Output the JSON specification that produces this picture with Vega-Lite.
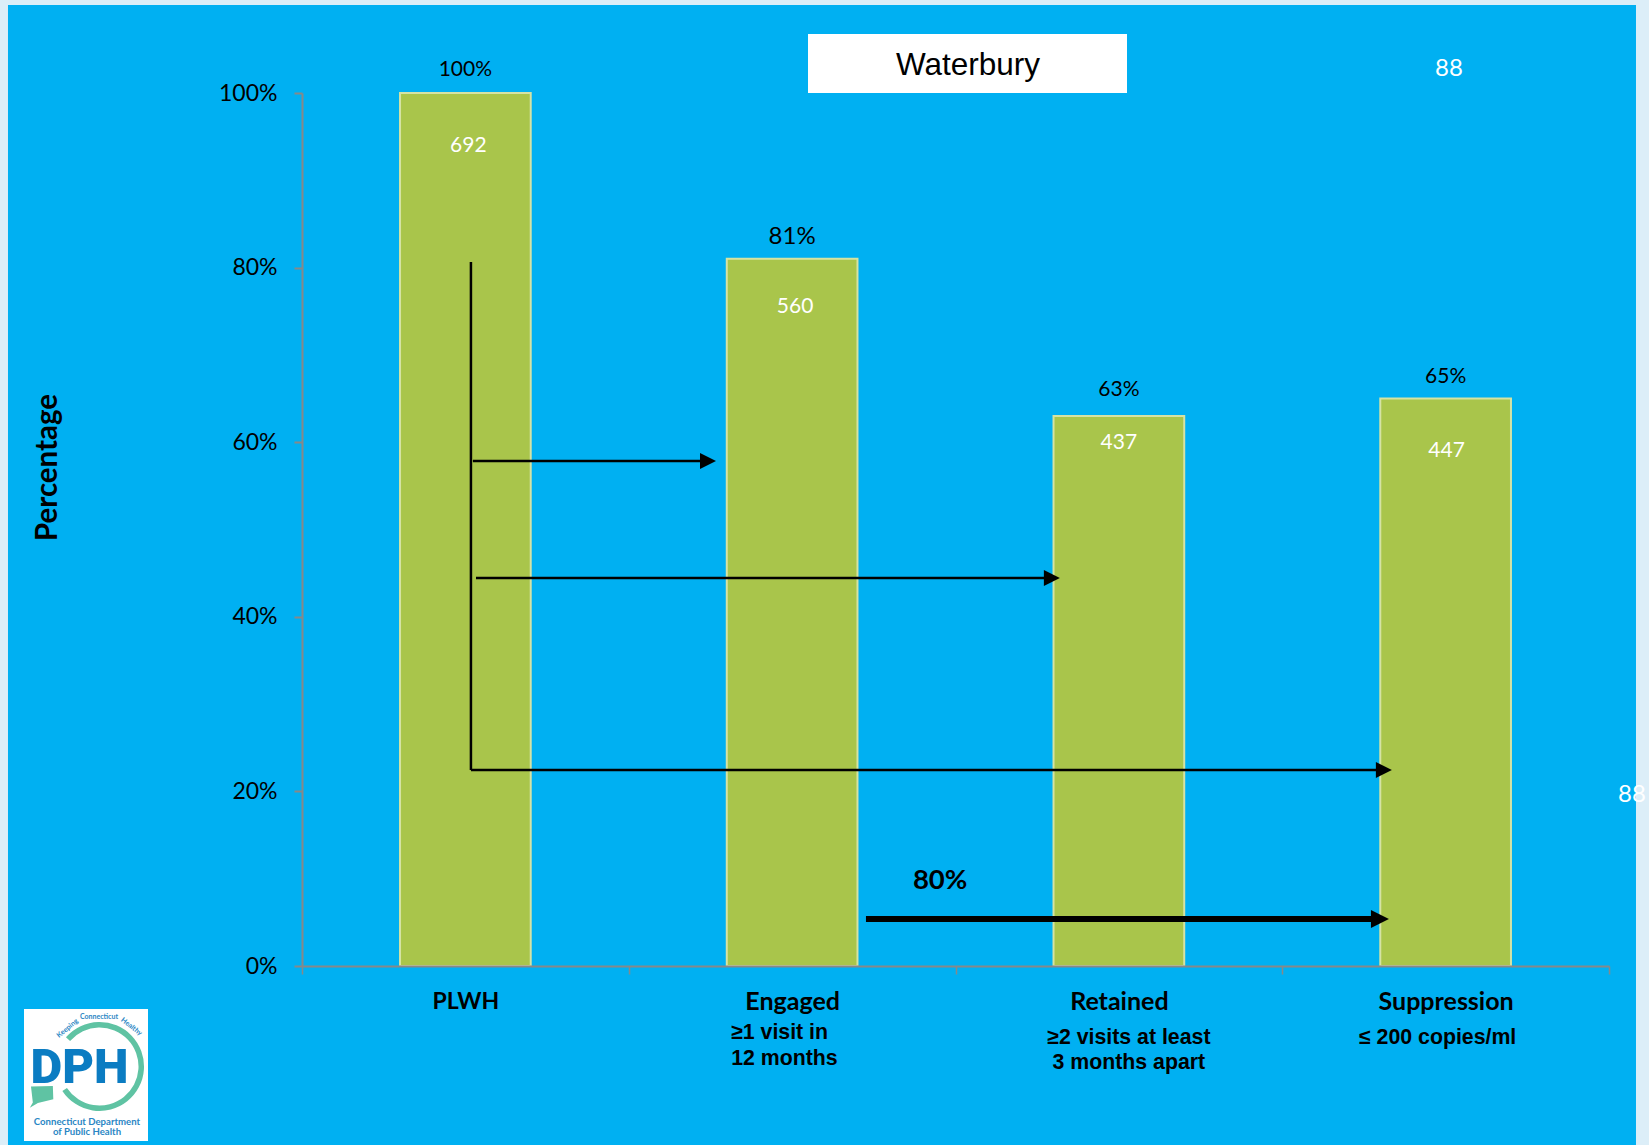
{
  "$schema": "https://vega.github.io/schema/vega-lite/v6.json",
  "width": 1307,
  "height": 873,
  "autosize": {"type": "none"},
  "padding": {"left": 302, "top": 93, "right": 40, "bottom": 179},
  "background": "#DCEEF8",
  "view": {"stroke": null},
  "data": {"values": [{}]},
  "datasets": {
    "stages": [
      {"stage": "PLWH", "pct": 1.0, "count": 692},
      {"stage": "Engaged", "pct": 0.81, "count": 560, "note": "≥1 visit in\n12 months"},
      {"stage": "Retained", "pct": 0.63, "count": 437, "note": "≥2 visits at least\n3 months apart"},
      {"stage": "Suppression", "pct": 0.65, "count": 447, "note": "≤ 200 copies/ml"}
    ],
    "arrows": [
      {"from": 0.523, "to": 1.2425, "level": 0.5785},
      {"from": 0.5325, "to": 2.295, "level": 0.4444},
      {"from": 0.517, "to": 3.311, "level": 0.2245}
    ],
    "target": [
      {"from": 1.726, "to": 3.299, "level": 0.0538, "label": "80%", "labelAt": 1.953, "labelLevel": 0.0975}
    ]
  },
  "resolve": {"scale": {"x": "independent"}},
  "layer": [
    {
      "description": "Blue panel behind the chart; it also carries the percentage axis",
      "mark": {"type": "rect", "color": "#00B0F2"},
      "encoding": {
        "x": {"datum": -0.8998, "type": "quantitative", "scale": {"domain": [0, 4]}, "axis": null},
        "x2": {"datum": 4.0826},
        "y": {
          "datum": 1.1008,
          "type": "quantitative",
          "scale": {"domain": [0, 1]},
          "title": "Percentage",
          "axis": {
            "zindex": 1,
            "values": [0, 0.2, 0.4, 0.6, 0.8, 1],
            "format": ".0%",
            "grid": false,
            "labelFont": "Lato",
            "labelFontSize": 23,
            "labelColor": "#000000",
            "labelPadding": 17,
            "domainColor": "#888888",
            "domainWidth": 2,
            "tickColor": "#888888",
            "tickWidth": 2,
            "tickSize": 8,
            "title": "Percentage",
            "titleFont": "Lato",
            "titleFontWeight": "bold",
            "titleFontSize": 29.5,
            "titleColor": "#000000",
            "titleX": -240,
            "titleY": 374
          }
        },
        "y2": {"datum": -0.205}
      }
    },
    {
      "description": "Care continuum bars with their labels",
      "data": {"name": "stages"},
      "encoding": {
        "x": {
          "field": "stage",
          "type": "nominal",
          "sort": null,
          "title": null,
          "scale": {"paddingInner": 0, "paddingOuter": 0},
          "axis": {
            "zindex": 1,
            "labelAngle": 0,
            "labelFont": "Lato",
            "labelFontWeight": "bold",
            "labelFontSize": {"condition": {"test": "datum.label === 'PLWH'", "value": 23}, "value": 25},
            "labelColor": "#000000",
            "labelBaseline": "middle",
            "labelPadding": 27,
            "domainColor": "#888888",
            "domainWidth": 2,
            "tickColor": "#888888",
            "tickWidth": 1.5,
            "tickSize": 8,
            "tickBand": "extent"
          }
        },
        "y": {"field": "pct", "type": "quantitative", "scale": {"domain": [0, 1]}, "title": "Percentage"}
      },
      "layer": [
        {
          "mark": {"type": "bar", "fill": "#A9C54B", "stroke": "#D5E3A4", "strokeWidth": 2, "width": {"band": 0.4}}
        },
        {
          "transform": [{"filter": "datum.stage === 'PLWH'"}],
          "layer": [
            {
              "mark": {"type": "text", "font": "Lato", "fontSize": 21, "color": "#000000", "baseline": "middle", "dy": -23.5},
              "encoding": {"text": {"field": "pct", "type": "quantitative", "format": ".0%"}}
            },
            {
              "mark": {"type": "text", "font": "Lato", "fontSize": 21, "color": "#FFFFFF", "baseline": "middle", "dx": 3, "dy": 53},
              "encoding": {"text": {"field": "count"}}
            }
          ]
        },
        {
          "transform": [{"filter": "datum.stage === 'Engaged'"}],
          "layer": [
            {
              "mark": {"type": "text", "font": "Lato", "fontSize": 24, "color": "#000000", "baseline": "middle", "dy": -22},
              "encoding": {"text": {"field": "pct", "type": "quantitative", "format": ".0%"}}
            },
            {
              "mark": {"type": "text", "font": "Lato", "fontSize": 21, "color": "#FFFFFF", "baseline": "middle", "dx": 3, "dy": 48},
              "encoding": {"text": {"field": "count"}}
            }
          ]
        },
        {
          "transform": [{"filter": "datum.stage === 'Retained'"}],
          "layer": [
            {
              "mark": {"type": "text", "font": "Lato", "fontSize": 21, "color": "#000000", "baseline": "middle", "dy": -26},
              "encoding": {"text": {"field": "pct", "type": "quantitative", "format": ".0%"}}
            },
            {
              "mark": {"type": "text", "font": "Lato", "fontSize": 21, "color": "#FFFFFF", "baseline": "middle", "dy": 27},
              "encoding": {"text": {"field": "count"}}
            }
          ]
        },
        {
          "transform": [{"filter": "datum.stage === 'Suppression'"}],
          "layer": [
            {
              "mark": {"type": "text", "font": "Lato", "fontSize": 21, "color": "#000000", "baseline": "middle", "dy": -22},
              "encoding": {"text": {"field": "pct", "type": "quantitative", "format": ".0%"}}
            },
            {
              "mark": {"type": "text", "font": "Lato", "fontSize": 21, "color": "#FFFFFF", "baseline": "middle", "dx": 1, "dy": 52},
              "encoding": {"text": {"field": "count"}}
            }
          ]
        },
        {
          "transform": [{"filter": "datum.stage === 'Engaged'"}],
          "mark": {"type": "text", "font": "Liberation Sans", "fontWeight": "bold", "fontSize": 21.3, "color": "#000000", "align": "left", "baseline": "middle", "lineBreak": "\n", "lineHeight": 26, "dx": -61, "dy": 67},
          "encoding": {
            "y": {"datum": 0, "type": "quantitative", "scale": {"domain": [0, 1]}, "title": "Percentage"},
            "text": {"field": "note"}
          }
        },
        {
          "transform": [{"filter": "datum.stage === 'Retained'"}],
          "mark": {"type": "text", "font": "Liberation Sans", "fontWeight": "bold", "fontSize": 21.3, "color": "#000000", "align": "center", "baseline": "middle", "lineBreak": "\n", "lineHeight": 25.5, "dx": 10, "dy": 71.5},
          "encoding": {
            "y": {"datum": 0, "type": "quantitative", "scale": {"domain": [0, 1]}, "title": "Percentage"},
            "text": {"field": "note"}
          }
        },
        {
          "transform": [{"filter": "datum.stage === 'Suppression'"}],
          "mark": {"type": "text", "font": "Liberation Sans", "fontWeight": "bold", "fontSize": 21.3, "color": "#000000", "align": "center", "baseline": "middle", "dx": -8, "dy": 72},
          "encoding": {
            "y": {"datum": 0, "type": "quantitative", "scale": {"domain": [0, 1]}, "title": "Percentage"},
            "text": {"field": "note"}
          }
        }
      ]
    },
    {
      "description": "Arrows, title box, stray counts and agency logo, placed on a stage-position scale",
      "encoding": {
        "x": {"type": "quantitative", "scale": {"domain": [0, 4]}, "axis": null, "title": null},
        "y": {"type": "quantitative", "scale": {"domain": [0, 1]}, "title": "Percentage"}
      },
      "layer": [
        {
          "mark": {"type": "rule", "color": "#000000", "strokeWidth": 2.5},
          "encoding": {
            "x": {"datum": 0.517, "type": "quantitative"},
            "y": {"datum": 0.8064, "type": "quantitative"},
            "y2": {"datum": 0.2245}
          }
        },
        {
          "data": {"name": "arrows"},
          "mark": {"type": "rule", "color": "#000000", "strokeWidth": 2.5},
          "encoding": {
            "x": {"field": "from", "type": "quantitative"},
            "x2": {"field": "to"},
            "y": {"field": "level", "type": "quantitative"}
          }
        },
        {
          "data": {"name": "arrows"},
          "mark": {"type": "point", "filled": true, "color": "#000000", "opacity": 1, "size": 256, "shape": "M -1 -1 L 1 0 L -1 1 Z"},
          "encoding": {
            "x": {"field": "to", "type": "quantitative"},
            "y": {"field": "level", "type": "quantitative"}
          }
        },
        {
          "data": {"name": "target"},
          "mark": {"type": "rule", "color": "#000000", "strokeWidth": 6},
          "encoding": {
            "x": {"field": "from", "type": "quantitative"},
            "x2": {"field": "to"},
            "y": {"field": "level", "type": "quantitative"}
          }
        },
        {
          "data": {"name": "target"},
          "mark": {"type": "point", "filled": true, "color": "#000000", "opacity": 1, "size": 324, "shape": "M -1 -1 L 1 0 L -1 1 Z"},
          "encoding": {
            "x": {"field": "to", "type": "quantitative"},
            "y": {"field": "level", "type": "quantitative"}
          }
        },
        {
          "data": {"name": "target"},
          "mark": {"type": "text", "font": "Lato", "fontWeight": "bold", "fontSize": 27.5, "color": "#000000", "baseline": "middle"},
          "encoding": {
            "x": {"field": "labelAt", "type": "quantitative"},
            "y": {"field": "labelLevel", "type": "quantitative"},
            "text": {"field": "label"}
          }
        },
        {
          "mark": {"type": "rect", "color": "#FFFFFF"},
          "encoding": {
            "x": {"datum": 1.5486, "type": "quantitative"},
            "x2": {"datum": 2.5249},
            "y": {"datum": 1.0676, "type": "quantitative"},
            "y2": {"datum": 1.0}
          }
        },
        {
          "mark": {"type": "text", "font": "Liberation Sans", "fontSize": 31.5, "color": "#000000", "baseline": "middle"},
          "encoding": {
            "x": {"datum": 2.0382, "type": "quantitative"},
            "y": {"datum": 1.0309, "type": "quantitative"},
            "text": {"value": "Waterbury"}
          }
        },
        {
          "mark": {"type": "text", "font": "Lato", "fontSize": 24, "color": "#FFFFFF", "baseline": "middle"},
          "encoding": {
            "x": {"datum": 3.51, "type": "quantitative"},
            "y": {"datum": 1.0275, "type": "quantitative"},
            "text": {"value": "88"}
          }
        },
        {
          "mark": {"type": "text", "font": "Lato", "fontSize": 24, "color": "#FFFFFF", "baseline": "middle"},
          "encoding": {
            "x": {"datum": 4.0704, "type": "quantitative"},
            "y": {"datum": 0.1959, "type": "quantitative"},
            "text": {"value": "88"}
          }
        },
        {
          "mark": {"type": "rect", "color": "#FFFFFF"},
          "encoding": {
            "x": {"datum": -0.8508, "type": "quantitative"},
            "x2": {"datum": -0.4713},
            "y": {"datum": -0.0493, "type": "quantitative"},
            "y2": {"datum": -0.2005}
          }
        },
        {
          "mark": {"type": "arc", "color": "#5FC3A3", "radius": 44.5, "radius2": 39, "theta": -0.855, "theta2": 4.13},
          "encoding": {
            "x": {"datum": -0.6197, "type": "quantitative"},
            "y": {"datum": -0.1151, "type": "quantitative"}
          }
        },
        {
          "mark": {"type": "point", "filled": true, "color": "#5FC3A3", "opacity": 1, "size": 529, "shape": "M -1 -1 L 0.9 -1.04 L 0.94 0.1 L -0.4 0.44 L -1.1 0.84 L -0.84 0.4 Z"},
          "encoding": {
            "x": {"datum": -0.7942, "type": "quantitative"},
            "y": {"datum": -0.1512, "type": "quantitative"}
          }
        },
        {
          "mark": {"type": "text", "font": "Roboto", "fontWeight": 900, "fontSize": 49, "color": "#0B7CC2", "baseline": "middle"},
          "encoding": {
            "x": {"datum": -0.6809, "type": "quantitative"},
            "y": {"datum": -0.117, "type": "quantitative"},
            "text": {"value": "DPH"}
          }
        },
        {
          "mark": {"type": "text", "font": "Lato", "fontWeight": "bold", "fontSize": 9.6, "color": "#2A86C4", "baseline": "middle"},
          "encoding": {
            "x": {"datum": -0.658, "type": "quantitative"},
            "y": {"datum": -0.1787, "type": "quantitative"},
            "text": {"value": "Connecticut Department"}
          }
        },
        {
          "mark": {"type": "text", "font": "Lato", "fontWeight": "bold", "fontSize": 9.6, "color": "#2A86C4", "baseline": "middle"},
          "encoding": {
            "x": {"datum": -0.658, "type": "quantitative"},
            "y": {"datum": -0.1901, "type": "quantitative"},
            "text": {"value": "of Public Health"}
          }
        },
        {
          "mark": {"type": "text", "font": "Lato", "fontWeight": "bold", "fontSize": 7, "color": "#2A86C4", "baseline": "middle", "angle": -40},
          "encoding": {
            "x": {"datum": -0.7175, "type": "quantitative"},
            "y": {"datum": -0.0714, "type": "quantitative"},
            "text": {"value": "Keeping"}
          }
        },
        {
          "mark": {"type": "text", "font": "Lato", "fontWeight": "bold", "fontSize": 7, "color": "#2A86C4", "baseline": "middle"},
          "encoding": {
            "x": {"datum": -0.6213, "type": "quantitative"},
            "y": {"datum": -0.0581, "type": "quantitative"},
            "text": {"value": "Connecticut"}
          }
        },
        {
          "mark": {"type": "text", "font": "Lato", "fontWeight": "bold", "fontSize": 7, "color": "#2A86C4", "baseline": "middle", "angle": 38},
          "encoding": {
            "x": {"datum": -0.522, "type": "quantitative"},
            "y": {"datum": -0.0695, "type": "quantitative"},
            "text": {"value": "Healthy"}
          }
        }
      ]
    }
  ]
}
